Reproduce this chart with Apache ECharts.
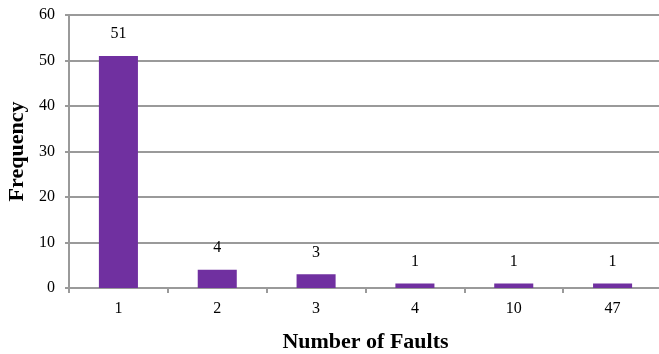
<!DOCTYPE html>
<html>
<head>
<meta charset="utf-8">
<script src="https://cdn.jsdelivr.net/npm/echarts@6/dist/echarts.min.js"></script>
<style>
    html, body { margin: 0; padding: 0; background: #fff; }
    #chart { width: 659px; height: 354px; }
</style>
</head>
<body>
<div id="chart"></div>
<script>
// 故障数分布
var faultCounts = ['1', '2', '3', '4', '10', '47'];
var frequency = [51, 4, 3, 1, 1, 1];
var yTicks = { min: 0, max: 60, interval: 10 };

var lineColor = '#9a9a9a';
var serif = '"Liberation Serif", "Times New Roman", serif';

var myChart = echarts.init(document.getElementById('chart'));
var option = {
    animation: false,
    grid: {
        left: 69,
        right: -3,
        top: 15,
        bottom: 66,
        containLabel: false,
        outerBoundsMode: 'none'
    },
    xAxis: {
        type: 'category',
        data: faultCounts,
        name: 'Number of Faults',
        nameLocation: 'middle',
        nameGap: 43,
        nameTextStyle: {
            fontFamily: serif,
            fontWeight: 'bold',
            fontSize: 22,
            color: '#000'
        },
        axisLine: { lineStyle: { color: lineColor, width: 2 } },
        axisTick: { show: true, length: 5, lineStyle: { color: lineColor, width: 2 } },
        axisLabel: {
            fontFamily: serif,
            fontSize: 16,
            color: '#000',
            margin: 13
        }
    },
    yAxis: {
        type: 'value',
        min: yTicks.min,
        max: yTicks.max,
        interval: yTicks.interval,
        name: 'Frequency',
        nameLocation: 'middle',
        nameGap: 40,
        nameTextStyle: {
            fontFamily: serif,
            fontWeight: 'bold',
            fontSize: 22,
            color: '#000'
        },
        axisLine: { show: true, lineStyle: { color: lineColor, width: 2 } },
        axisTick: { show: true, length: 4, lineStyle: { color: lineColor, width: 2 } },
        splitLine: { lineStyle: { color: lineColor, width: 2 } },
        axisLabel: {
            fontFamily: serif,
            fontSize: 16,
            color: '#000',
            margin: 14
        }
    },
    series: [{
        type: 'bar',
        data: frequency,
        barWidth: '39.5%',
        itemStyle: { color: '#7030A0' },
        label: {
            show: true,
            position: 'top',
            distance: 14,
            fontFamily: serif,
            fontSize: 16,
            color: '#000'
        }
    }]
};
myChart.setOption(option);
</script>
</body>
</html>
